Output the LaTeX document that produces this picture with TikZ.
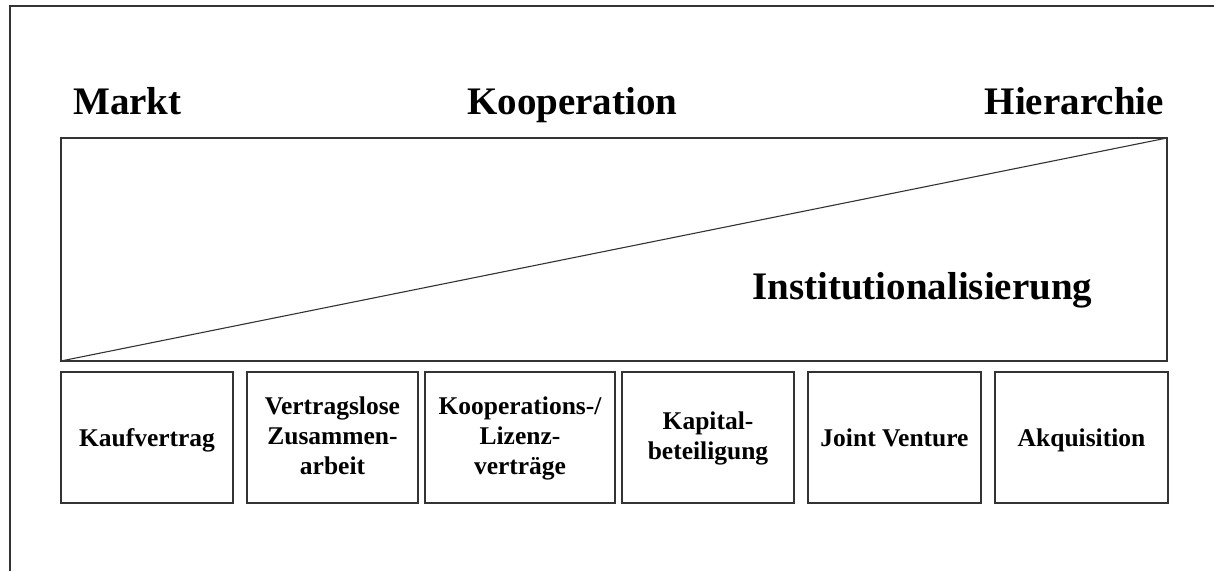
\documentclass[tikz,border=0pt]{standalone}
\usepackage{fontspec}
\setmainfont{Liberation Serif}
\begin{document}
\begin{tikzpicture}[x=1pt,y=1pt,
  frameline/.style={line width=1.8pt, draw=black!80},
  boxline/.style={line width=1.3pt, draw=black!80},
  heading/.style={font=\fontsize{39}{46}\selectfont\bfseries, inner sep=0pt},
  formbox/.style={inner sep=0pt, align=center,
    font=\fontsize{25.5}{30}\selectfont\bfseries,
    execute at begin node=\strut, execute at end node=\strut}]
\useasboundingbox (0,0) rectangle (1214,571);
% outer frame (top and left edges)
\draw[frameline] (10,0) -- (10,565) -- (1214,565);

% headings
\node[heading, anchor=base west] (markt) at (73,456) {Markt};
\node[heading, anchor=base west] (koop) at (467,456) {Kooperation};
\node[heading, anchor=base east] (hier) at (1164,456) {Hierarchie};

% institutionalisation wedge
\coordinate (bl) at (61,210);
\coordinate (tr) at (1167,433);
\draw[boxline] (bl) rectangle (tr);
\draw[boxline, line width=1.1pt] (bl) -- (tr);
\node[heading, anchor=base west] (inst) at (752,272) {Institutionalisierung};

% forms of cooperation
\foreach \name/\xa/\xb/\txt in {
  kauf/61/233/{Kaufvertrag},
  vlz/247/418/{Vertragslose\\Zusammen-\\arbeit},
  lic/425/615/{Kooperations-/\\Lizenz-\\verträge},
  kap/622/794/{Kapital-\\beteiligung},
  jv/808/981/{Joint Venture},
  akq/995/1168/{Akquisition}}{
  \draw[boxline] (\xa,68) rectangle (\xb,199);
  \node[formbox] (\name) at ({(\xa+\xb)/2},130.5) {\txt};
}
\end{tikzpicture}
\end{document}
